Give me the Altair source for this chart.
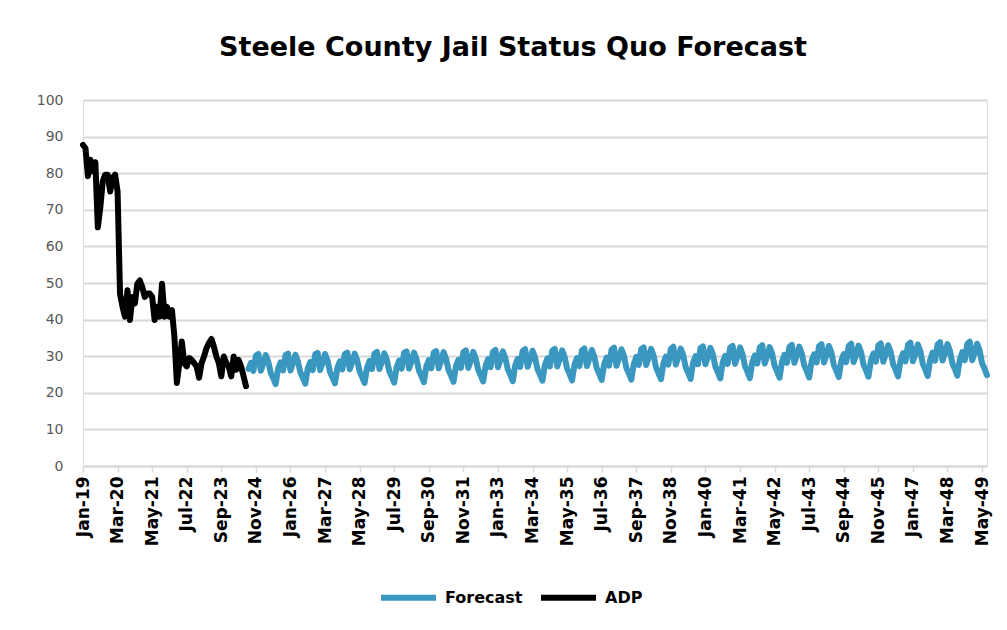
import altair as alt
import pandas as pd

series_names = ["Forecast", "ADP"]
series_colors = ["#3A98C0", "#000000"]
month_names = ["Jan", "Feb", "Mar", "Apr", "May", "Jun",
               "Jul", "Aug", "Sep", "Oct", "Nov", "Dec"]

# ADP: monthly, Jan-19 .. Jul-24
adp = [87.7, 86.8, 79.2, 83.7, 80.5, 83.0, 65.2, 70.6, 77.8, 79.6, 79.6, 75.0,
       78.7, 79.6, 75.0, 47.0, 43.5, 40.8, 48.0, 39.9, 46.2, 44.4, 49.8, 50.7,
       48.9, 46.2, 47.1, 47.1, 46.2, 39.9, 43.5, 40.8, 49.8, 40.8, 43.5, 40.8,
       42.6, 35.4, 22.7, 28.1, 34.0, 28.1, 27.2, 29.5, 29.0, 28.1, 27.2, 24.1,
       28.1, 29.9, 32.2, 33.6, 34.7, 32.6, 29.9, 28.1, 24.5, 29.9, 28.1, 27.2,
       24.5, 29.9, 26.3, 29.0, 27.2, 24.5, 21.8]

# Forecast: monthly, Aug-24 .. Jul-49 (rows run Jul..Jun)
forecast = [
    26.5, 28.2, 26.0, 30.2, 30.6, 26.0, 28.0, 30.3, 28.5, 25.5, 24.0,
    22.4, 26.6, 28.3, 26.1, 30.3, 30.7, 26.1, 28.1, 30.4, 28.6, 25.6, 24.1,
    22.5, 26.7, 28.4, 26.2, 30.5, 30.9, 26.2, 28.2, 30.6, 28.8, 25.7, 24.2,
    22.6, 26.8, 28.6, 26.4, 30.6, 31.0, 26.4, 28.4, 30.7, 28.9, 25.8, 24.3,
    22.7, 26.9, 28.7, 26.5, 30.7, 31.2, 26.5, 28.5, 30.8, 29.0, 25.9, 24.4,
    22.8, 27.1, 28.8, 26.6, 30.9, 31.3, 26.6, 28.6, 31.0, 29.2, 26.1, 24.6,
    22.9, 27.2, 28.9, 26.7, 31.0, 31.4, 26.7, 28.7, 31.1, 29.3, 26.2, 24.7,
    23.0, 27.3, 29.0, 26.8, 31.1, 31.6, 26.8, 28.8, 31.2, 29.4, 26.3, 24.8,
    23.1, 27.4, 29.2, 27.0, 31.2, 31.7, 27.0, 29.0, 31.3, 29.5, 26.4, 24.9,
    23.2, 27.5, 29.3, 27.1, 31.4, 31.9, 27.1, 29.1, 31.5, 29.7, 26.5, 25.0,
    23.3, 27.6, 29.4, 27.2, 31.5, 32.0, 27.2, 29.2, 31.6, 29.8, 26.6, 25.1,
    23.4, 27.7, 29.5, 27.3, 31.6, 32.1, 27.3, 29.3, 31.7, 29.9, 26.7, 25.2,
    23.5, 27.8, 29.6, 27.4, 31.8, 32.3, 27.4, 29.4, 31.9, 30.1, 26.8, 25.3,
    23.6, 27.9, 29.8, 27.6, 31.9, 32.4, 27.6, 29.6, 32.0, 30.2, 26.9, 25.4,
    23.7, 28.0, 29.9, 27.7, 32.0, 32.6, 27.7, 29.7, 32.1, 30.3, 27.0, 25.5,
    23.8, 28.2, 30.0, 27.8, 32.2, 32.7, 27.8, 29.8, 32.3, 30.5, 27.2, 25.7,
    23.9, 28.3, 30.1, 27.9, 32.3, 32.8, 27.9, 29.9, 32.4, 30.6, 27.3, 25.8,
    24.0, 28.4, 30.2, 28.0, 32.4, 33.0, 28.0, 30.0, 32.5, 30.7, 27.4, 25.9,
    24.1, 28.5, 30.4, 28.2, 32.5, 33.1, 28.2, 30.2, 32.6, 30.8, 27.5, 26.0,
    24.2, 28.6, 30.5, 28.3, 32.7, 33.3, 28.3, 30.3, 32.8, 31.0, 27.6, 26.1,
    24.3, 28.7, 30.6, 28.4, 32.8, 33.4, 28.4, 30.4, 32.9, 31.1, 27.7, 26.2,
    24.4, 28.8, 30.7, 28.5, 32.9, 33.5, 28.5, 30.5, 33.0, 31.2, 27.8, 26.3,
    24.5, 28.9, 30.8, 28.6, 33.1, 33.7, 28.6, 30.6, 33.2, 31.4, 27.9, 26.4,
    24.6, 29.0, 31.0, 28.8, 33.2, 33.8, 28.8, 30.8, 33.3, 31.5, 28.0, 26.5,
    24.7, 29.1, 31.1, 28.9, 33.3, 34.0, 28.9, 30.9, 33.4, 31.6, 28.1, 26.6,
    24.8,
]

start_year = 19
n_months = len(adp) + len(forecast)
tick_values = list(range(0, n_months, 14))
y_ticks = list(range(0, 101, 10))


def month_label(i):
    return f"{month_names[i % 12]}-{start_year + i // 12:02d}"


rows = []
for i, v in enumerate(adp):
    rows.append({"idx": i, "month": month_label(i), "value": v, "series": "ADP"})
for j, v in enumerate(forecast):
    i = len(adp) + j
    rows.append({"idx": i, "month": month_label(i), "value": v, "series": "Forecast"})
df = pd.DataFrame(rows)

label_array = "[" + ",".join(f"'{m}'" for m in month_names) + "]"
label_expr = f"{label_array}[datum.value % 12] + '-' + (floor(datum.value / 12) + {start_year})"

font = "DejaVu Sans"

chart = alt.Chart(df).mark_line(
    strokeWidth=6, strokeCap="round", strokeJoin="round"
).encode(
    x=alt.X("idx:Q",
            scale=alt.Scale(domain=[0, n_months - 1], nice=False, zero=False),
            axis=alt.Axis(values=tick_values, labelExpr=label_expr, labelAngle=-90,
                          labelFontSize=17, labelFontWeight="bold", labelColor="#000000",
                          labelFont=font, labelPadding=4, grid=False,
                          domainColor="#D9D9D9", domainWidth=2,
                          tickColor="#D9D9D9", tickWidth=1.5, tickSize=6,
                          title=None)),
    y=alt.Y("value:Q",
            scale=alt.Scale(domain=[0, 100], nice=False),
            axis=alt.Axis(values=y_ticks, labelFontSize=14, labelColor="#595959",
                          labelFont=font, labelPadding=20, domain=False, ticks=False,
                          gridColor="#D9D9D9", gridWidth=2, title=None)),
    color=alt.Color("series:N",
                    scale=alt.Scale(domain=series_names, range=series_colors),
                    legend=alt.Legend(title=None, orient="none", direction="horizontal",
                                      legendX=295, legendY=467,
                                      symbolType="stroke", symbolSize=3025,
                                      symbolStrokeWidth=6, labelFontSize=16,
                                      labelFontWeight="bold", labelColor="#000000",
                                      labelFont=font, labelOffset=6,
                                      columnPadding=6)),
    detail="series:N",
    order=alt.Order("idx:Q"),
).properties(
    width=904,
    height=366,
    title=alt.TitleParams("Steele County Jail Status Quo Forecast", fontSize=27,
                          font=font, fontWeight="bold", color="#000000",
                          anchor="middle", dx=-22, offset=31),
    autosize=alt.AutoSizeParams(type="none"),
    padding={"left": 75, "top": 92, "right": 12, "bottom": 160},
).configure_view(
    stroke=None
).configure(
    background="#FFFFFF"
)

chart.save("out.html", embed_options={"renderer": "svg", "actions": False})
